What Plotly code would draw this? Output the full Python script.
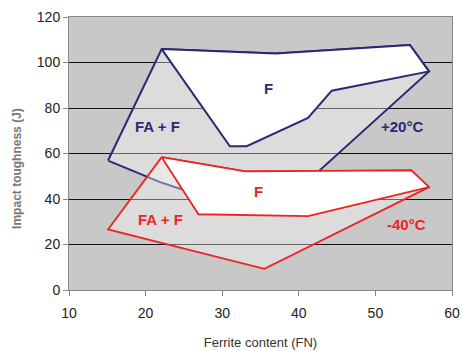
import plotly.graph_objects as go

# +20°C (blue) polygons
blue_outer_x = [15.1, 22.1, 37.0, 54.5, 57.0, 36.3, 24.5, 21.9, 15.1]
blue_outer_y = [56.9, 105.9, 104.0, 107.7, 96.1, 33.0, 44.5, 47.4, 56.9]
blue_inner_x = [22.1, 37.0, 54.5, 57.0, 44.3, 41.2, 33.2, 31.0, 22.1]
blue_inner_y = [105.9, 104.0, 107.7, 96.1, 87.6, 75.6, 63.2, 63.2, 105.9]

# -40°C (red) polygons
red_outer_x = [22.1, 33.0, 54.7, 57.0, 35.5, 15.1, 22.1]
red_outer_y = [58.4, 52.1, 52.6, 45.2, 9.3, 26.6, 58.4]
red_inner_x = [22.1, 33.0, 54.7, 57.0, 41.2, 26.9, 22.1]
red_inner_y = [58.4, 52.1, 52.6, 45.2, 32.5, 33.3, 58.4]

# labels
label_text = ["F", "FA + F", "+20°C", "F", "FA + F", "-40°C"]
label_x = [36.0, 21.5, 53.5, 34.8, 21.9, 54.0]
label_y = [88.5, 71.8, 71.8, 43.4, 31.1, 28.9]
label_color = ["#2a2a72", "#2a2a72", "#2a2a72", "#ee2424", "#ee2424", "#ee2424"]

BLUE = "#2a2a72"
RED = "#ee2424"
FILL = "rgba(255,255,255,0.36)"

fig = go.Figure()
fig.add_trace(go.Scatter(x=blue_outer_x, y=blue_outer_y, mode="lines", fill="toself",
                         fillcolor=FILL, line=dict(color=BLUE, width=2), hoverinfo="skip"))
fig.add_trace(go.Scatter(x=blue_inner_x, y=blue_inner_y, mode="lines", fill="toself",
                         fillcolor="white", line=dict(color=BLUE, width=2), hoverinfo="skip"))
fig.add_trace(go.Scatter(x=red_outer_x, y=red_outer_y, mode="lines", fill="toself",
                         fillcolor=FILL, line=dict(color=RED, width=1.8), hoverinfo="skip"))
fig.add_trace(go.Scatter(x=red_inner_x, y=red_inner_y, mode="lines", fill="toself",
                         fillcolor="white", line=dict(color=RED, width=1.8), hoverinfo="skip"))

for t, x, y, c in zip(label_text, label_x, label_y, label_color):
    fig.add_annotation(x=x, y=y, text="<b>%s</b>" % t, showarrow=False,
                       font=dict(family="Liberation Sans, Arial", size=15, color=c))

# y-axis title placed as a rotated annotation to match the reference position
fig.add_annotation(xref="paper", yref="paper", x=-0.136, y=0.447, xanchor="center", yanchor="middle",
                   text="<b>Impact toughness (J)</b>", textangle=-90, showarrow=False,
                   font=dict(family="Liberation Sans, Arial", size=12, color="#777"))

fig.update_layout(
    width=462, height=351,
    margin=dict(l=69, r=10, t=17, b=61, autoexpand=False),
    paper_bgcolor="white", plot_bgcolor="#c8c8c8",
    showlegend=False,
    font=dict(family="Liberation Sans, Arial", size=14, color="#222"),
)
fig.update_xaxes(range=[10, 60], tickvals=[10, 20, 30, 40, 50, 60], showgrid=False,
                 zeroline=False, showline=True, linecolor="#888", linewidth=1, mirror=True,
                 ticks="outside", ticklen=5, tickcolor="#888", automargin=False,
                 ticklabelstandoff=5,
                 title=dict(text="Ferrite content (FN)", font=dict(size=13, color="#333"), standoff=18))
fig.update_yaxes(range=[0, 120], tickvals=[0, 20, 40, 60, 80, 100, 120], showgrid=True,
                 gridcolor="#111", gridwidth=1, zeroline=False, showline=True, linecolor="#888",
                 linewidth=1, mirror=True, ticks="outside", ticklen=5, tickcolor="#888",
                 automargin=False)

fig.write_html("out.html", config={"displayModeBar": False},
               post_script="document.body.style.margin='0';document.body.style.overflow='hidden';")
